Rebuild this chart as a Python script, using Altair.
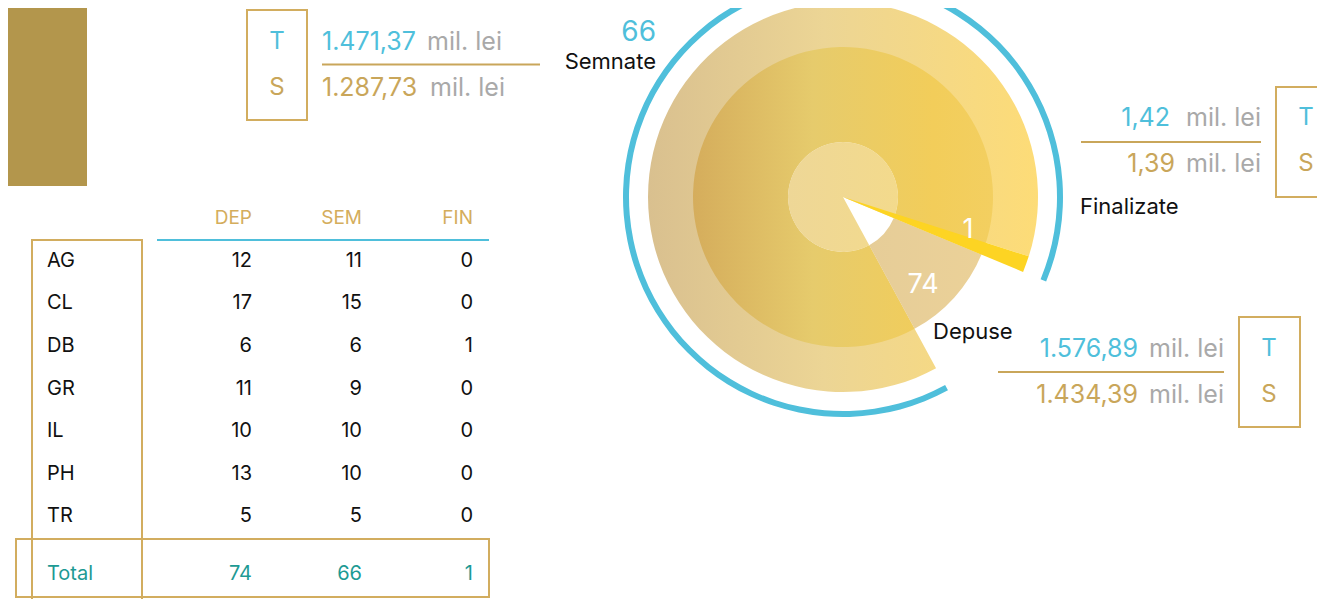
import math
import altair as alt
import pandas as pd

# ---------------- data ----------------
regions = ["AG", "CL", "DB", "GR", "IL", "PH", "TR"]
dep = [12, 17, 6, 11, 10, 13, 5]
sem = [11, 15, 6, 9, 10, 10, 5]
fin = [0, 0, 1, 0, 0, 0, 0]
col_names = ["DEP", "SEM", "FIN"]
total_label = "Total"

depuse_n = sum(dep)        # 74
semnate_n = sum(sem)       # 66
finalizate_n = sum(fin)    # 1

stage_names = ["Semnate", "Finalizate", "Depuse"]
value_T = ["1.471,37", "1,42", "1.576,89"]
value_S = ["1.287,73", "1,39", "1.434,39"]
unit_txt = "mil. lei"

# ---------------- colours / fonts ----------------
FONT = "Inter"
BLUE = "#4fbfdb"
GOLD = "#c9a65a"
BOX = "#d2ad5f"
GREY = "#a9a9a9"
TEAL = "#1d9a94"
BLACK = "#111111"

# ---------------- layout ----------------
OFF = 8
W, H = 1309, 591
xs = alt.Scale(domain=[OFF, OFF + W], nice=False, zero=False)
ys = alt.Scale(domain=[OFF, OFF + H], nice=False, zero=False, reverse=True)
CX, CY = 843 - OFF, 197 - OFF
start = math.radians(151.5)
ts = alt.Scale(domain=[0, depuse_n], range=[start, start + 2 * math.pi])


def X(f="x"):
    return alt.X(f + ":Q", scale=xs, axis=None)


def Y(f="y"):
    return alt.Y(f + ":Q", scale=ys, axis=None)


def texts(df, **kw):
    base = dict(font=FONT, baseline="middle")
    base.update(kw)
    return alt.Chart(df).mark_text(**base).encode(x=X(), y=Y(), text="t:N")


def grad(stops):
    return alt.Gradient(
        gradient="linear",
        stops=[alt.GradientStop(color=c, offset=o) for o, c in stops],
        x1=0, x2=1, y1=0, y2=0,
    )


def arc(a0, a1, r_in, r_out, fill):
    df = pd.DataFrame({"a0": [a0], "a1": [a1]})
    return alt.Chart(df).mark_arc(
        innerRadius=r_in, outerRadius=r_out, color=fill, strokeWidth=0
    ).encode(
        theta=alt.Theta("a0:Q", scale=ts, stack=None),
        theta2="a1:Q",
        x=alt.value(CX), y=alt.value(CY),
    )


layers = []

# gold block top-left
layers.append(
    alt.Chart(pd.DataFrame({"x": [0], "x2": [87], "y": [0], "y2": [186]}))
    .mark_rect(color="#b3964c")
    .encode(x=X(), x2="x2:Q", y=Y(), y2="y2:Q")
)

# ---------------- radial chart ----------------
layers.append(arc(0, semnate_n, 214, 220, BLUE))
layers.append(arc(0, semnate_n - finalizate_n, 55, 195,
                  grad([(0, "#d9c08f"), (0.45, "#ecd595"), (1, "#fddc77")])))
layers.append(arc(0, semnate_n, 55, 150,
                  grad([(0, "#d5ad5c"), (0.4, "#e6cb6c"), (0.8, "#f2cd5a"), (1, "#f3cf60")])))
layers.append(arc(semnate_n, depuse_n, 55, 150,
                  grad([(0, "#e6cd98"), (1, "#ebd198")])))
layers.append(arc(0, semnate_n, 0, 55,
                  grad([(0, "#eed797"), (1, "#f3da8c")])))
layers.append(arc(semnate_n - finalizate_n, semnate_n, 0, 195, "#fdd423"))

# numbers inside
layers.append(texts(pd.DataFrame({"x": [923], "y": [285], "t": [str(depuse_n)]}),
                    color="white", fontSize=27, align="center"))
layers.append(texts(pd.DataFrame({"x": [968], "y": [230], "t": [str(finalizate_n)]}),
                    color="white", fontSize=27, align="center"))

# stage labels
layers.append(texts(pd.DataFrame({"x": [656], "y": [33], "t": [str(semnate_n)]}),
                    color=BLUE, fontSize=28, align="right"))
layers.append(texts(pd.DataFrame({"x": [1080, 933], "y": [207, 332], "t": stage_names[1:]}),
                    color=BLACK, fontSize=22, align="left"))
layers.append(texts(pd.DataFrame({"x": [656], "y": [62], "t": stage_names[:1]}),
                    color=BLACK, fontSize=22, align="right"))

# ---------------- T / S boxes ----------------
boxes = pd.DataFrame({"x": [247, 1276, 1239], "x2": [307, 1345, 1300],
                      "y": [10, 87, 317], "y2": [120, 197, 427]})
layers.append(alt.Chart(boxes).mark_rect(filled=False, stroke=BOX, strokeWidth=2)
              .encode(x=X(), x2="x2:Q", y=Y(), y2="y2:Q"))
box_cx = [277, 1306, 1269]
t_y = [41.5, 117.5, 349]
s_y = [88, 164, 395]
layers.append(texts(pd.DataFrame({"x": box_cx, "y": t_y, "t": ["T"] * 3}),
                    color=BLUE, fontSize=24, align="center"))
layers.append(texts(pd.DataFrame({"x": box_cx, "y": s_y, "t": ["S"] * 3}),
                    color=GOLD, fontSize=24, align="center"))

# separator rules
rules = pd.DataFrame({"x": [322, 1081, 998], "x2": [540, 1261, 1224], "y": [64.5, 142, 372]})
layers.append(alt.Chart(rules).mark_rule(color=GOLD, strokeWidth=2)
              .encode(x=X(), x2="x2:Q", y=Y()))

# values: left block (left aligned)
layers.append(texts(pd.DataFrame({"x": [322], "y": [t_y[0]], "t": [value_T[0]]}),
                    color=BLUE, fontSize=25, align="left"))
layers.append(texts(pd.DataFrame({"x": [322], "y": [s_y[0]], "t": [value_S[0]]}),
                    color=GOLD, fontSize=25, align="left"))
layers.append(texts(pd.DataFrame({"x": [502, 505], "y": [t_y[0], s_y[0]], "t": [unit_txt] * 2}),
                    color=GREY, fontSize=25, align="right"))
# right blocks (right aligned)
layers.append(texts(pd.DataFrame({"x": [1170, 1138], "y": [t_y[1], t_y[2]], "t": value_T[1:]}),
                    color=BLUE, fontSize=25, align="right"))
layers.append(texts(pd.DataFrame({"x": [1175, 1138], "y": [s_y[1], s_y[2]], "t": value_S[1:]}),
                    color=GOLD, fontSize=25, align="right"))
layers.append(texts(pd.DataFrame({"x": [1261, 1261, 1224, 1224],
                                  "y": [t_y[1], s_y[1], t_y[2], s_y[2]],
                                  "t": [unit_txt] * 4}),
                    color=GREY, fontSize=25, align="right"))

# ---------------- table ----------------
col_x = [252, 362, 473]
row_y0, row_step = 260.7, 42.6
total_y = 574
label_x = 47

layers.append(texts(pd.DataFrame({"x": col_x, "y": [218] * 3, "t": col_names}),
                    color="#d4ad5c", fontSize=19, align="right"))
layers.append(alt.Chart(pd.DataFrame({"x": [157], "x2": [489], "y": [240]}))
              .mark_rule(color=BLUE, strokeWidth=2).encode(x=X(), x2="x2:Q", y=Y()))

row_y = [row_y0 + i * row_step for i in range(len(regions))]
layers.append(texts(pd.DataFrame({"x": [label_x] * len(regions), "y": row_y, "t": regions}),
                    color=BLACK, fontSize=20, align="left"))
cells = []
for series, cx in zip([dep, sem, fin], col_x):
    for v, yy in zip(series, row_y):
        cells.append({"x": cx, "y": yy, "t": str(v)})
layers.append(texts(pd.DataFrame(cells), color=BLACK, fontSize=20, align="right"))

totals = [depuse_n, semnate_n, finalizate_n]
layers.append(texts(pd.DataFrame({"x": col_x, "y": [total_y] * 3, "t": [str(v) for v in totals]}),
                    color=TEAL, fontSize=20, align="right"))
layers.append(texts(pd.DataFrame({"x": [label_x], "y": [total_y], "t": [total_label]}),
                    color=TEAL, fontSize=20, align="left"))

tboxes = pd.DataFrame({"x": [32, 16], "x2": [142, 489], "y": [240, 539], "y2": [620, 597]})
layers.append(alt.Chart(tboxes).mark_rect(filled=False, stroke=BOX, strokeWidth=2)
              .encode(x=X(), x2="x2:Q", y=Y(), y2="y2:Q"))

chart = alt.layer(*layers).properties(
    width=W, height=H,
    autosize=alt.AutoSizeParams(type="none"),
    padding=0,
    background="white",
).configure_view(strokeWidth=0)

chart.save("out.html", embed_options={"renderer": "svg", "actions": False})
